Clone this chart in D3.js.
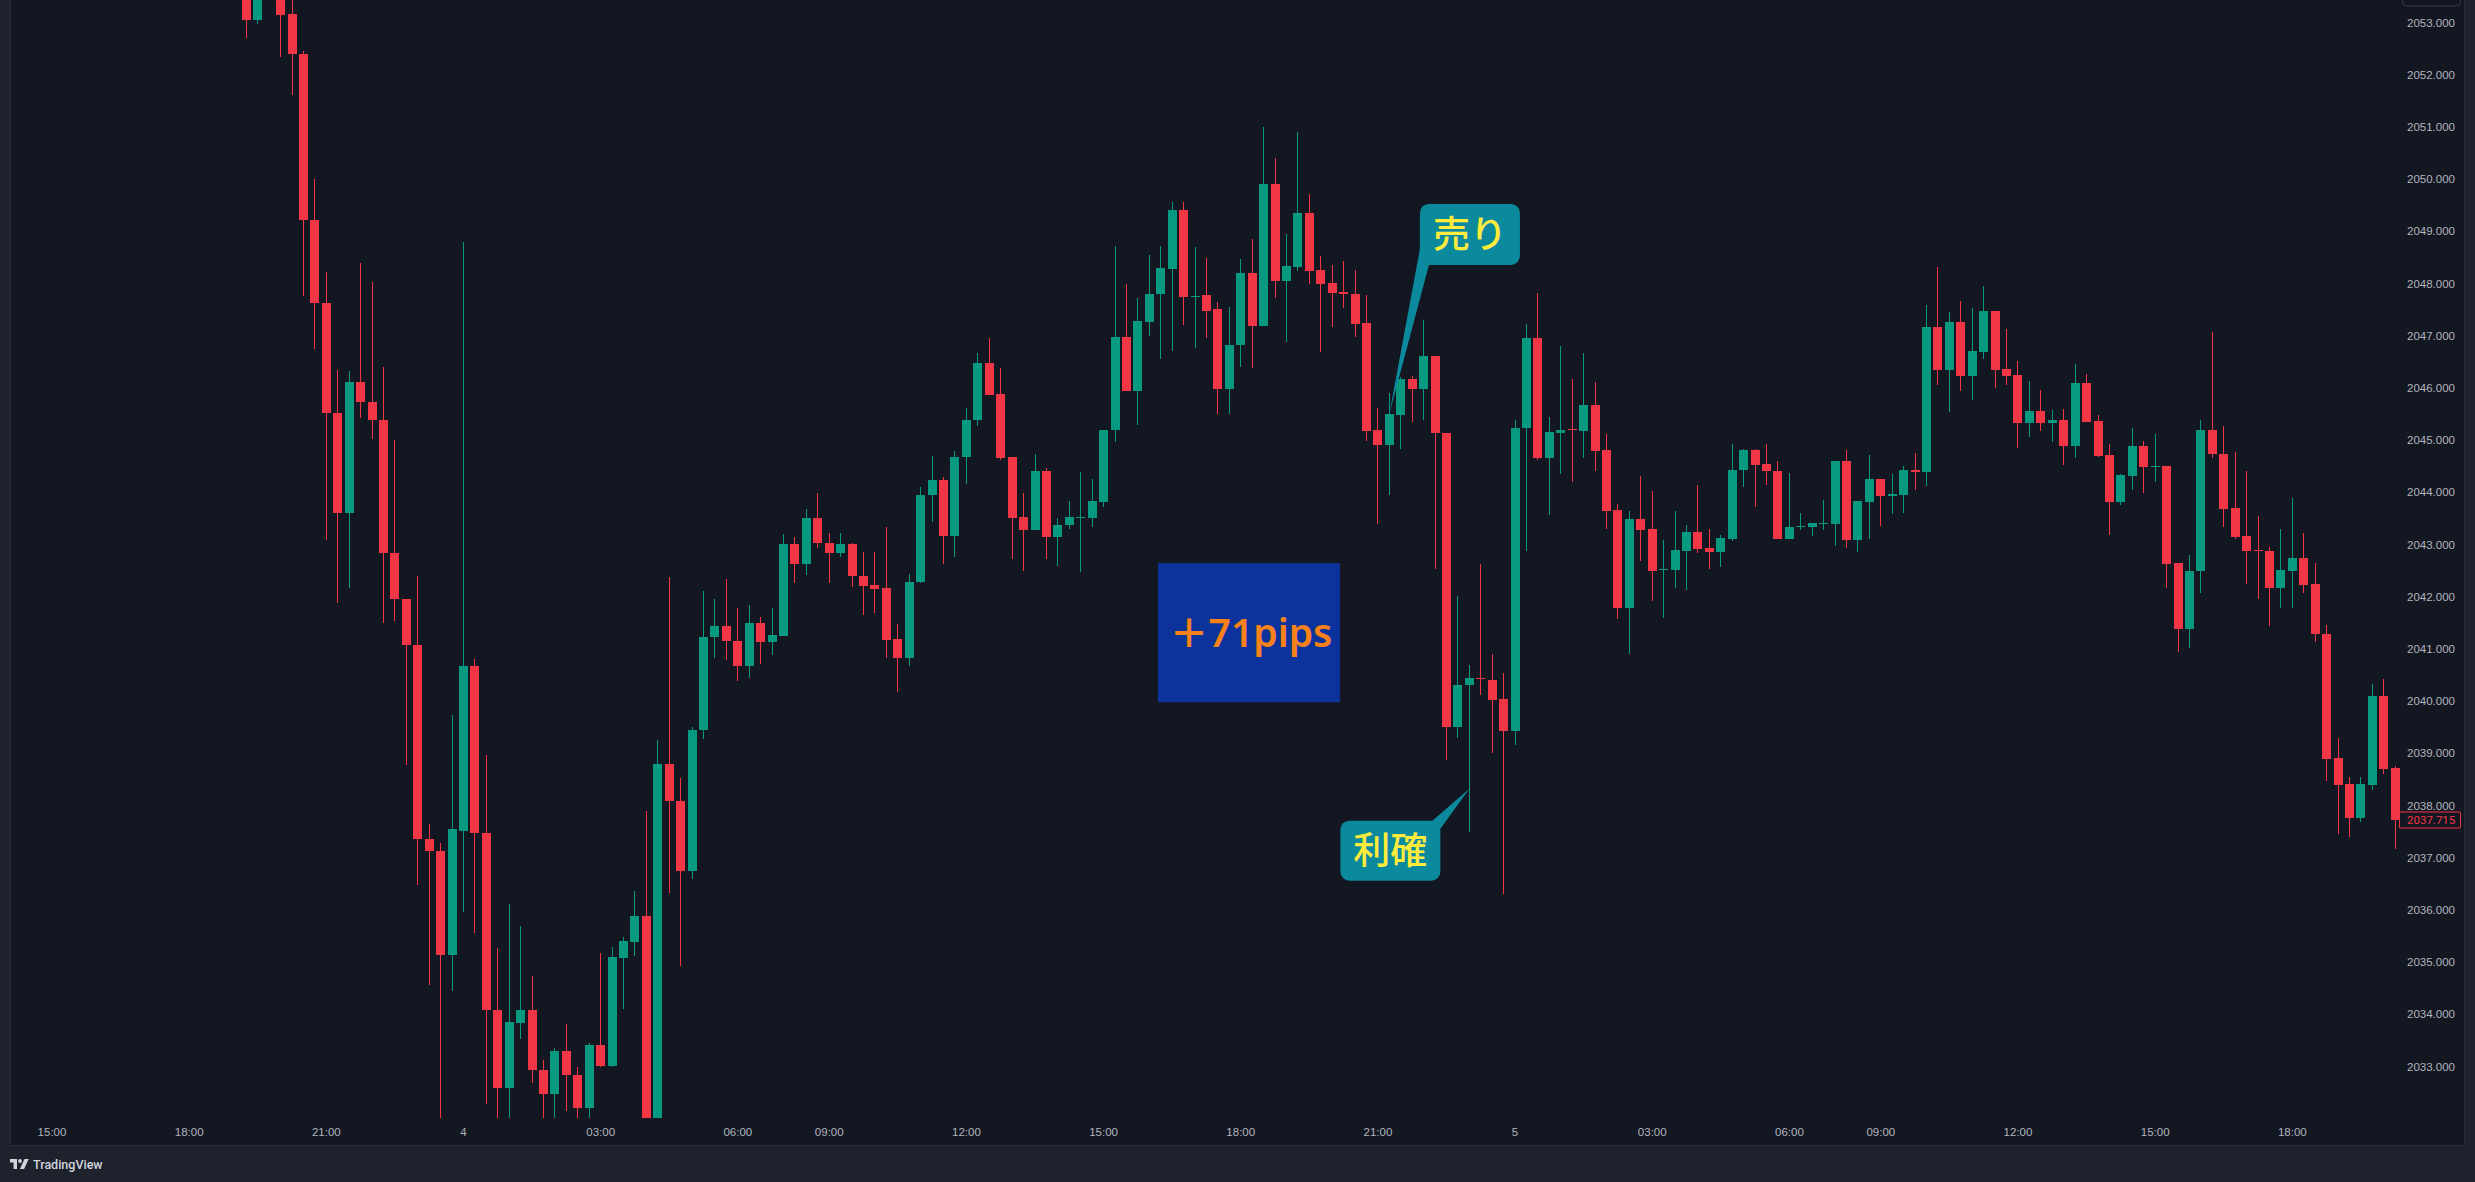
<!DOCTYPE html>
<html>
<head>
<meta charset="utf-8">
<script src="https://cdn.jsdelivr.net/npm/d3@7"></script>
<style>
  html, body { margin: 0; padding: 0; background: #1e222d; }
  svg { display: block; }
</style>
</head>
<body>
<div id="chart"></div>
<script>
// XAUUSD 15分足 (2024/01/03 15:00 - 01/05 20:15)

// Time axis: bars every 15 min, market break 07:00-08:00
const axisStart = new Date(2024, 0, 3, 15, 0);
const axisEnd = new Date(2024, 0, 5, 20, 15);
const breakHour = 7;
const firstBarTime = new Date(2024, 0, 3, 19, 15);
const tickHours = [0, 3, 6, 9, 12, 15, 18, 21];
const priceTicks = [2033, 2034, 2035, 2036, 2037, 2038, 2039, 2040, 2041, 2042, 2043,
  2044, 2045, 2046, 2047, 2048, 2049, 2050, 2051, 2052, 2053];
const lastPrice = 2037.715;

// OHLC, starting at firstBarTime
const opens = [
  2053.50, 2053.04, 2053.60, 2053.70, 2053.16, 2052.40, 2049.22, 2047.62, 2045.52, 2043.61,
  2046.11, 2045.73, 2045.38, 2042.83, 2041.95, 2041.07, 2037.36, 2037.13, 2035.14, 2037.52,
  2040.67, 2037.48, 2034.08, 2032.59, 2033.84, 2034.09, 2032.93, 2032.47, 2033.30, 2032.83,
  2032.20, 2033.41, 2033.01, 2035.08, 2035.39, 2035.88, 2031.20, 2038.79, 2038.08, 2036.74,
  2039.44, 2041.22, 2041.44, 2041.16, 2040.68, 2041.49, 2041.14, 2041.24, 2043.01, 2042.62,
  2043.51, 2043.03, 2042.84, 2043.01, 2042.40, 2042.23, 2042.16, 2041.19, 2040.83, 2042.28,
  2043.95, 2044.23, 2043.16, 2044.68, 2045.39, 2046.47, 2045.88, 2044.67, 2043.52, 2043.28,
  2044.41, 2043.14, 2043.38, 2043.52, 2043.51, 2043.81, 2045.20, 2046.97, 2045.95, 2047.27,
  2047.79, 2048.27, 2049.41, 2047.76, 2047.78, 2047.51, 2045.97, 2046.82, 2048.20, 2047.18,
  2049.90, 2048.04, 2048.32, 2049.35, 2048.26, 2048.01, 2047.83, 2047.80, 2047.25, 2045.20,
  2044.91, 2045.49, 2046.17, 2045.98, 2046.61, 2045.14, 2039.50, 2040.31, 2040.45, 2040.40,
  2040.04, 2039.43, 2045.23, 2046.96, 2044.65, 2045.14, 2045.21, 2045.18, 2045.67, 2044.81,
  2043.66, 2041.78, 2043.49, 2043.30, 2042.51, 2042.52, 2042.88, 2043.24, 2042.93, 2042.86,
  2043.11, 2044.42, 2044.81, 2044.54, 2044.41, 2043.10, 2043.33, 2043.34, 2043.40, 2043.39,
  2044.60, 2043.09, 2043.81, 2044.26, 2043.92, 2043.95, 2044.43, 2044.38, 2047.17, 2046.34,
  2047.26, 2046.22, 2046.69, 2047.47, 2046.36, 2046.25, 2045.32, 2045.56, 2045.32, 2045.38,
  2044.89, 2046.10, 2045.37, 2044.72, 2043.82, 2044.32, 2044.88, 2044.49, 2044.51, 2042.64,
  2041.38, 2042.49, 2045.19, 2044.73, 2043.70, 2043.16, 2042.89, 2042.88, 2042.16, 2042.50,
  2042.74, 2042.24, 2041.29, 2038.91, 2038.41, 2037.77, 2038.40, 2040.10, 2038.72
];
const highs = [
  2053.70, 2053.80, 2054.10, 2053.90, 2053.50, 2052.45, 2050.00, 2048.22, 2046.34, 2046.32,
  2048.39, 2048.03, 2046.40, 2045.00, 2041.95, 2042.40, 2037.65, 2037.29, 2039.73, 2048.80,
  2040.81, 2038.97, 2035.27, 2036.11, 2035.70, 2034.74, 2033.12, 2033.35, 2033.81, 2033.00,
  2033.45, 2035.17, 2035.28, 2035.49, 2036.36, 2037.89, 2039.25, 2042.38, 2038.52, 2039.51,
  2042.10, 2041.96, 2042.34, 2041.78, 2041.84, 2041.61, 2041.78, 2043.20, 2043.15, 2043.68,
  2043.98, 2043.22, 2043.22, 2043.03, 2042.86, 2042.86, 2043.33, 2041.47, 2042.43, 2044.11,
  2044.69, 2044.30, 2044.79, 2045.62, 2046.67, 2046.95, 2046.38, 2044.67, 2043.99, 2044.73,
  2044.46, 2043.50, 2043.84, 2044.38, 2044.25, 2045.20, 2048.72, 2047.99, 2047.72, 2048.54,
  2048.72, 2049.56, 2049.56, 2048.69, 2048.49, 2047.64, 2047.55, 2048.46, 2048.85, 2051.00,
  2050.40, 2048.95, 2050.90, 2049.71, 2048.52, 2048.35, 2048.44, 2048.25, 2047.78, 2045.61,
  2045.90, 2046.20, 2046.22, 2047.30, 2046.61, 2045.14, 2042.01, 2040.70, 2042.63, 2040.91,
  2040.53, 2045.38, 2047.23, 2047.82, 2045.44, 2046.80, 2046.17, 2046.67, 2046.11, 2045.12,
  2043.77, 2043.64, 2044.31, 2044.02, 2043.08, 2043.64, 2043.37, 2044.14, 2043.30, 2043.18,
  2044.93, 2044.83, 2044.83, 2044.93, 2044.60, 2044.37, 2043.60, 2043.41, 2043.85, 2044.60,
  2044.81, 2043.83, 2044.71, 2044.26, 2044.35, 2044.50, 2044.75, 2047.59, 2048.32, 2047.45,
  2047.66, 2047.53, 2047.95, 2047.47, 2047.13, 2046.52, 2046.13, 2045.96, 2045.57, 2045.60,
  2046.46, 2046.26, 2045.48, 2044.92, 2044.35, 2045.23, 2044.98, 2045.12, 2044.51, 2042.64,
  2042.80, 2045.38, 2047.07, 2045.27, 2044.77, 2044.41, 2043.54, 2042.95, 2043.29, 2043.89,
  2043.22, 2042.64, 2041.46, 2039.29, 2038.54, 2038.54, 2040.32, 2040.42, 2038.76
];
const lows = [
  2052.70, 2052.98, 2053.50, 2052.34, 2051.62, 2047.77, 2046.75, 2043.08, 2041.88, 2042.16,
  2045.43, 2045.03, 2041.49, 2041.54, 2038.78, 2036.47, 2034.57, 2031.90, 2034.44, 2035.96,
  2035.56, 2032.29, 2031.80, 2031.85, 2033.53, 2032.69, 2031.90, 2031.90, 2032.15, 2031.85,
  2031.90, 2032.99, 2032.99, 2034.11, 2035.12, 2030.90, 2031.00, 2036.33, 2034.92, 2036.60,
  2039.28, 2040.83, 2040.78, 2040.38, 2040.45, 2040.71, 2040.89, 2041.24, 2042.27, 2042.42,
  2042.94, 2042.27, 2042.77, 2042.19, 2041.64, 2041.68, 2040.82, 2040.18, 2040.68, 2042.27,
  2043.44, 2042.63, 2042.77, 2044.16, 2045.27, 2045.86, 2044.62, 2042.72, 2042.49, 2043.28,
  2042.72, 2042.59, 2043.30, 2042.47, 2043.34, 2043.72, 2044.96, 2045.95, 2045.28, 2046.99,
  2046.55, 2046.71, 2047.20, 2046.76, 2046.95, 2045.50, 2045.50, 2046.40, 2046.39, 2047.18,
  2047.72, 2046.87, 2048.24, 2047.99, 2046.69, 2047.16, 2047.54, 2046.98, 2044.99, 2043.40,
  2043.94, 2044.82, 2045.34, 2045.39, 2042.54, 2038.88, 2039.30, 2037.49, 2040.11, 2039.01,
  2036.31, 2039.15, 2042.87, 2044.62, 2043.57, 2044.36, 2044.19, 2044.66, 2044.41, 2043.29,
  2041.58, 2040.90, 2042.68, 2041.92, 2041.60, 2042.17, 2042.13, 2042.84, 2042.53, 2042.56,
  2043.07, 2044.11, 2043.71, 2044.14, 2043.10, 2043.10, 2043.28, 2043.17, 2043.28, 2042.98,
  2042.94, 2042.86, 2043.10, 2043.36, 2043.59, 2043.61, 2044.05, 2044.13, 2046.06, 2045.53,
  2045.95, 2045.76, 2046.56, 2045.99, 2046.06, 2044.84, 2045.05, 2045.18, 2044.97, 2044.53,
  2044.66, 2045.35, 2044.68, 2043.19, 2043.75, 2044.05, 2043.98, 2044.19, 2042.16, 2040.95,
  2041.02, 2042.08, 2044.66, 2043.34, 2043.10, 2042.25, 2041.96, 2041.43, 2041.79, 2041.79,
  2042.08, 2041.14, 2038.46, 2037.46, 2037.40, 2037.68, 2038.30, 2038.61, 2037.17
];
const closes = [
  2053.04, 2053.55, 2053.90, 2053.15, 2052.40, 2049.22, 2047.62, 2045.52, 2043.61, 2046.11,
  2045.73, 2045.38, 2042.83, 2041.95, 2041.07, 2037.36, 2037.12, 2035.14, 2037.55, 2040.67,
  2037.48, 2034.08, 2032.59, 2033.85, 2034.09, 2032.93, 2032.47, 2033.30, 2032.83, 2032.20,
  2033.41, 2033.01, 2035.09, 2035.40, 2035.88, 2031.20, 2038.79, 2038.08, 2036.74, 2039.44,
  2041.22, 2041.44, 2041.16, 2040.68, 2041.49, 2041.14, 2041.26, 2043.01, 2042.62, 2043.51,
  2043.02, 2042.84, 2043.01, 2042.40, 2042.21, 2042.15, 2041.18, 2040.83, 2042.28, 2043.95,
  2044.23, 2043.16, 2044.68, 2045.39, 2046.47, 2045.86, 2044.65, 2043.51, 2043.28, 2044.41,
  2043.14, 2043.38, 2043.52, 2043.53, 2043.83, 2045.20, 2046.97, 2045.95, 2047.28, 2047.79,
  2048.30, 2049.41, 2047.75, 2047.77, 2047.48, 2045.97, 2046.83, 2048.20, 2047.18, 2049.90,
  2048.04, 2048.34, 2049.35, 2048.24, 2048.00, 2047.81, 2047.80, 2047.23, 2045.18, 2044.91,
  2045.50, 2046.17, 2045.98, 2046.61, 2045.13, 2039.50, 2040.31, 2040.44, 2040.42, 2040.03,
  2039.43, 2045.23, 2046.96, 2044.65, 2045.15, 2045.20, 2045.19, 2045.67, 2044.79, 2043.64,
  2041.78, 2043.49, 2043.28, 2042.50, 2042.53, 2042.89, 2043.24, 2042.92, 2042.86, 2043.12,
  2044.43, 2044.81, 2044.53, 2044.40, 2043.10, 2043.33, 2043.36, 2043.41, 2043.41, 2044.60,
  2043.09, 2043.83, 2044.26, 2043.92, 2043.97, 2044.43, 2044.38, 2047.17, 2046.34, 2047.26,
  2046.22, 2046.71, 2047.47, 2046.34, 2046.23, 2045.32, 2045.56, 2045.32, 2045.38, 2044.89,
  2046.10, 2045.35, 2044.70, 2043.82, 2044.33, 2044.88, 2044.49, 2044.51, 2042.63, 2041.38,
  2042.49, 2045.19, 2044.73, 2043.68, 2043.15, 2042.88, 2042.87, 2042.16, 2042.51, 2042.74,
  2042.23, 2041.28, 2038.90, 2038.40, 2037.77, 2038.41, 2040.10, 2038.70, 2037.715
];

// Callouts (tip anchored on a bar, box shifted in bars)
const callouts = [
  { label: '売り', tipTime: new Date(2024, 0, 4, 21, 15), tipPrice: 2045.50,
    boxShift: 7.05, boxPrice: 2048.94, w: 100, h: 61, tail: 'bottom-left' },
  { label: '利確', tipTime: new Date(2024, 0, 4, 23, 0), tipPrice: 2038.32,
    boxShift: -6.91, boxPrice: 2037.135, w: 100, h: 60, tail: 'top-right' }
];
const resultBox = { label: '＋71pips', time: new Date(2024, 0, 4, 18, 0), shift: 0.72,
  price: 2041.31, w: 182, h: 139 };

const W = 2475, H = 1182;
const paneLeft = 10, paneRight = 2400, paneBottom = 1118, frameBottom = 1146, frameRight = 2464;
const upColor = '#089981', downColor = '#f23645';

// Bar times
const times = [];
for (let t = +axisStart; t <= +axisEnd; t += 15 * 60000) {
  if (new Date(t).getHours() !== breakHour) times.push(t);
}
const offset = times.indexOf(+firstBarTime);

const bars = opens.map((o, k) => ({
  t: times[offset + k], o: o, h: highs[k], l: lows[k], c: closes[k]
}));

const svg = d3.select('#chart')
  .append('svg')
  .attr('width', W)
  .attr('height', H)
  .style('font-family', 'Roboto, "Noto Sans", sans-serif');

svg.append('rect').attr('width', W).attr('height', H).attr('fill', '#1e222d');

svg.append('rect')
  .attr('x', paneLeft + 0.5)
  .attr('y', -1)
  .attr('width', frameRight - paneLeft)
  .attr('height', frameBottom + 0.5)
  .attr('fill', '#131722')
  .attr('stroke', '#2a2e39')
  .attr('stroke-width', 1);

// Scales
const x = d3.scaleBand()
  .domain(times)
  .range([46.3, 2400.9])
  .padding(0);

const y = d3.scaleLinear()
  .domain([2033, 2053])
  .range([1066.5, 22.5]);

const xAt = idx => x.range()[0] + x.step() * (idx + 0.5);
const idxOf = d => times.indexOf(+d);

svg.append('defs').append('clipPath')
  .attr('id', 'pane-clip')
  .append('rect')
  .attr('x', paneLeft + 1)
  .attr('y', 0)
  .attr('width', paneRight - paneLeft - 1)
  .attr('height', paneBottom);

// Candles
const bodyW = 9;
const bx = d => Math.round(x(d.t) + x.bandwidth() / 2 - bodyW / 2);
const colorOf = d => d.c >= d.o ? upColor : downColor;

const candles = svg.append('g').attr('clip-path', 'url(#pane-clip)');

candles.selectAll('line.wick')
  .data(bars)
  .join('line')
  .attr('class', 'wick')
  .attr('x1', d => bx(d) + 4.5)
  .attr('x2', d => bx(d) + 4.5)
  .attr('y1', d => Math.round(y(d.h)))
  .attr('y2', d => Math.round(y(d.l)))
  .attr('stroke', colorOf)
  .attr('stroke-width', 1);

candles.selectAll('rect.body')
  .data(bars)
  .join('rect')
  .attr('class', 'body')
  .attr('x', d => bx(d))
  .attr('width', bodyW)
  .attr('y', d => Math.round(y(Math.max(d.o, d.c))))
  .attr('height', d => Math.max(1, Math.round(y(Math.min(d.o, d.c))) - Math.round(y(Math.max(d.o, d.c)))))
  .attr('fill', colorOf);

// Time axis
const fmtHour = d3.timeFormat('%H:%M');
const fmtDay = d3.timeFormat('%-d');
const tickTimes = times.filter(t => {
  const d = new Date(t);
  return d.getMinutes() === 0 && tickHours.includes(d.getHours());
});

const xAxis = svg.append('g')
  .attr('transform', `translate(0, ${paneBottom})`)
  .call(d3.axisBottom(x)
    .tickValues(tickTimes)
    .tickSize(0)
    .tickPadding(10)
    .tickFormat(t => {
      const d = new Date(t);
      return d.getHours() === 0 ? fmtDay(d) : fmtHour(d);
    }));
xAxis.select('.domain').remove();
xAxis.selectAll('text')
  .attr('fill', '#b2b5be')
  .style('font-size', '11.5px');

// Price axis
const yAxis = svg.append('g')
  .attr('transform', `translate(${paneRight}, 0)`)
  .call(d3.axisRight(y)
    .tickValues(priceTicks)
    .tickSize(0)
    .tickPadding(7)
    .tickFormat(d3.format('.3f')));
yAxis.select('.domain').remove();
yAxis.selectAll('text')
  .attr('fill', '#b2b5be')
  .style('font-size', '11.5px');

// Last price label
const lastY = y(lastPrice);
svg.append('rect')
  .attr('x', paneRight - 0.5)
  .attr('y', Math.round(lastY) - 8)
  .attr('width', 61)
  .attr('height', 16)
  .attr('fill', '#131722')
  .attr('stroke', downColor)
  .attr('stroke-width', 1)
  .attr('rx', 1);
svg.append('text')
  .attr('x', paneRight + 7)
  .attr('y', lastY)
  .attr('dy', '0.35em')
  .attr('fill', downColor)
  .style('font-size', '11.5px')
  .text(d3.format('.3f')(lastPrice));

// Top right scale button (partly visible)
svg.append('rect')
  .attr('x', 2402.5)
  .attr('y', -20)
  .attr('width', 58)
  .attr('height', 26)
  .attr('rx', 4)
  .attr('fill', 'none')
  .attr('stroke', '#363a45');

// Result box
const rb = {
  cx: xAt(idxOf(resultBox.time) + resultBox.shift),
  cy: y(resultBox.price)
};
svg.append('rect')
  .attr('x', rb.cx - resultBox.w / 2)
  .attr('y', rb.cy - resultBox.h / 2)
  .attr('width', resultBox.w)
  .attr('height', resultBox.h)
  .attr('fill', '#0c329b');
svg.append('text')
  .attr('x', rb.cx + 2)
  .attr('y', rb.cy + 14)
  .attr('text-anchor', 'middle')
  .attr('fill', '#f7821b')
  .style('font-family', '"Noto Sans", "Noto Sans CJK JP", sans-serif')
  .style('font-size', '39px')
  .style('font-weight', '600')
  .text(resultBox.label);

// Callouts
callouts.forEach(c => {
  const tipI = idxOf(c.tipTime);
  const tip = [xAt(tipI), y(c.tipPrice)];
  const cx = xAt(tipI + c.boxShift);
  const cy = y(c.boxPrice);
  const L = cx - c.w / 2, R = cx + c.w / 2, T = cy - c.h / 2, B = cy + c.h / 2;
  const base = c.tail === 'bottom-left'
    ? [[L, B - 16], [L + 9, B]]
    : [[R - 8, T], [R, T + 8]];

  svg.append('path')
    .attr('d', d3.line()([base[0], tip, base[1]]) + 'Z')
    .attr('fill', '#0b8a9e');

  svg.append('rect')
    .attr('x', L)
    .attr('y', T)
    .attr('width', c.w)
    .attr('height', c.h)
    .attr('rx', 9)
    .attr('fill', '#0b8a9e');

  svg.append('text')
    .attr('x', cx)
    .attr('y', cy)
    .attr('dy', '0.36em')
    .attr('text-anchor', 'middle')
    .attr('fill', '#ffeb3b')
    .style('font-family', '"Noto Sans CJK JP", sans-serif')
    .style('font-size', '37px')
    .style('font-weight', '500')
    .text(c.label);
});

// Footer logo
const logo = svg.append('g').attr('fill', '#d1d4dc');
logo.append('path').attr('d', 'M10,1159h7v10h-3.4v-6.6H10Z');
logo.append('circle').attr('cx', 20).attr('cy', 1161).attr('r', 1.9);
logo.append('path').attr('d', 'M24.5,1159h4.2l-4.6,10h-4.2Z');
svg.append('text')
  .attr('x', 33)
  .attr('y', 1168.5)
  .attr('fill', '#d1d4dc')
  .style('font-size', '12.5px')
  .style('font-weight', '500')
  .text('TradingView');
</script>
</body>
</html>
